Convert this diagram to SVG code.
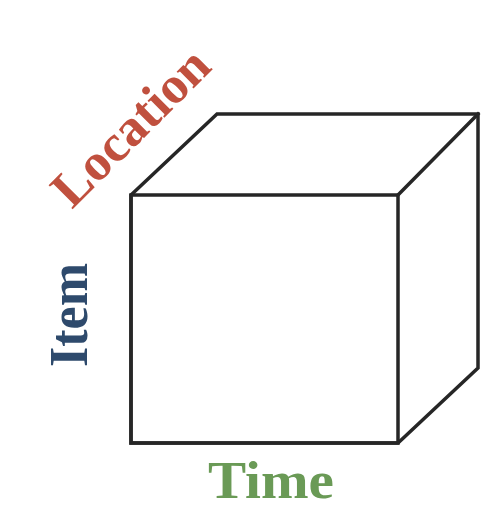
<svg xmlns="http://www.w3.org/2000/svg" width="485" height="511" viewBox="0 0 485 511">
<style>
.edge{fill:none;stroke:#262626;stroke-width:3.5;stroke-linejoin:miter;stroke-linecap:square}
.lbl{font-family:"Liberation Serif","Times New Roman",serif;font-weight:bold}
</style>
<rect width="485" height="511" fill="#ffffff"/>
<g id="cube">
<polygon class="edge" points="131,195 217,114 478,114 478,368 398,443 131,443" fill="#ffffff"/>
<g id="connectors">
<rect class="edge" x="131" y="195" width="267" height="248"/>
<line class="edge" x1="398" y1="195" x2="478" y2="114"/>
</g>
</g>
<g id="location"><text class="lbl" fill="#c0503e" font-size="52" textLength="200" lengthAdjust="spacingAndGlyphs" transform="translate(72,210) rotate(-45)">Location</text></g>
<g id="item"><text class="lbl" fill="#2e4a6c" font-size="54" textLength="104" lengthAdjust="spacingAndGlyphs" transform="translate(87,367) rotate(-90)">Item</text></g>
<g id="time"><text class="lbl" fill="#6a9a56" font-size="52" textLength="126" lengthAdjust="spacingAndGlyphs" x="208" y="498">Time</text></g>
</svg>
